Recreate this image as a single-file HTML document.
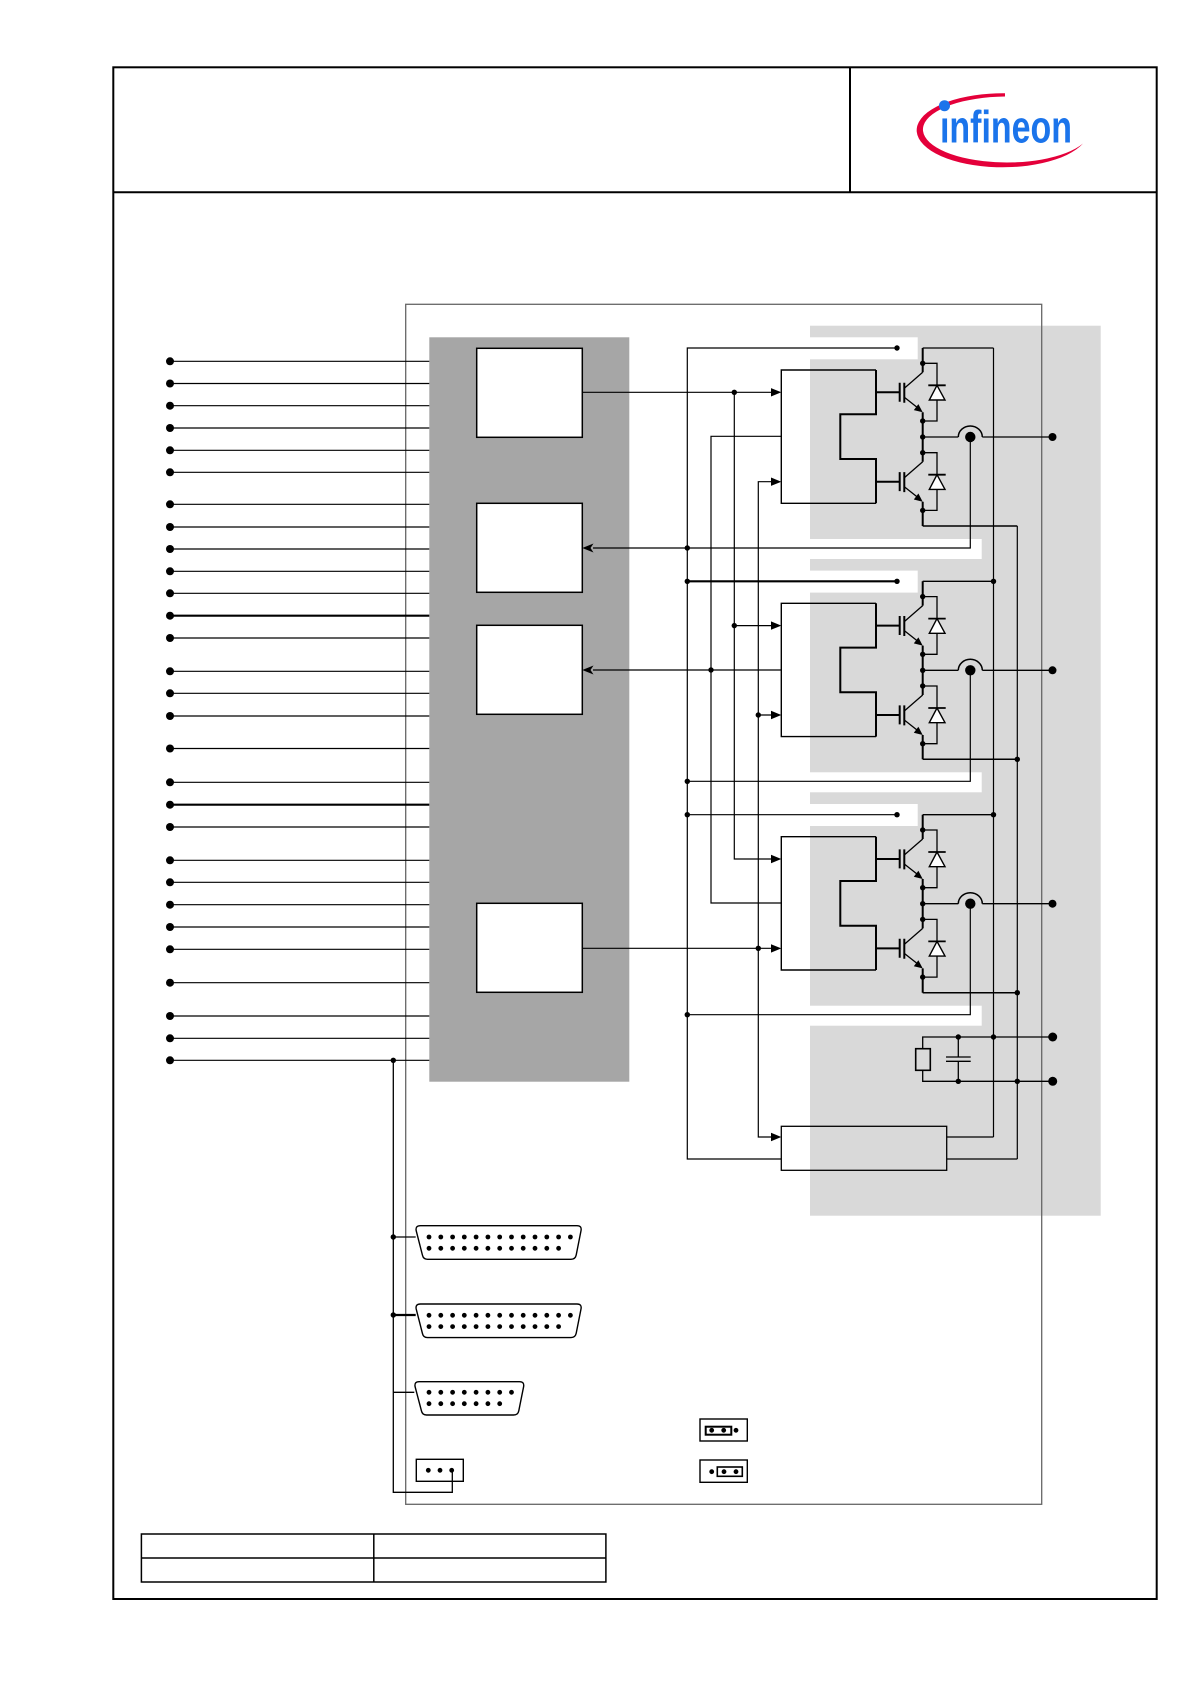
<!DOCTYPE html>
<html>
<head>
<meta charset="utf-8">
<style>
  html,body{margin:0;padding:0;background:#fff;}
  svg{display:block;}
</style>
</head>
<body>
<svg xmlns="http://www.w3.org/2000/svg" xmlns:xlink="http://www.w3.org/1999/xlink" width="1191" height="1684" viewBox="0 0 1191 1684">
  <defs>
    <!-- IGBT + diode at local gate y = 0 -->
    <g id="igbt">
      <path d="M876,0 H899.7" stroke="#000" stroke-width="2" fill="none"/>
      <path d="M899.7,-9.6 V9.4 M904.3,-9.6 V10.4" stroke="#000" stroke-width="2" fill="none"/>
      <path d="M904.3,-4 L922.7,-20 M904.3,5 L917,15" stroke="#000" stroke-width="1.3" fill="none"/>
      <polygon points="922.7,20 913.8,17.8 918.4,11.8" fill="#000"/>
      <path d="M922.7,-29 H937 V28.7 H922.7" stroke="#000" stroke-width="1.3" fill="none"/>
      <path d="M928.3,-7 H945.7" stroke="#000" stroke-width="1.8" fill="none"/>
      <path d="M937,-7 L929.3,7.7 L945,7.7 Z" stroke="#000" stroke-width="1.4" fill="#fff"/>
      <circle cx="922.7" cy="-29" r="2.7" fill="#000"/>
      <circle cx="922.7" cy="28.7" r="2.7" fill="#000"/>
    </g>
    <!-- one phase (phase 1 coordinates) -->
    <g id="ph">
      <!-- driver box -->
      <path d="M876,370 H781.3 V503.3 H876" stroke="#000" stroke-width="1.4" fill="none"/>
      <path d="M876,370 V414.3 H840.3 V459 H876 V503.3" stroke="#000" stroke-width="2" fill="none"/>
      <!-- arrows into driver -->
      <polygon points="771,388.1 781.3,392.3 771,396.5" fill="#000"/>
      <polygon points="771,477.5 781.3,481.7 771,485.9" fill="#000"/>
      <!-- top dot (left of notch) -->
      <circle cx="897" cy="348" r="2.7" fill="#000"/>
      <!-- transistors -->
      <use xlink:href="#igbt" href="#igbt" transform="translate(0,392.3)"/>
      <use xlink:href="#igbt" href="#igbt" transform="translate(0,481.7)"/>
      <!-- spine -->
      <path d="M922.7,348 V372.3 M922.7,412.3 V461.7 M922.7,501.7 V526" stroke="#000" stroke-width="2" fill="none"/>
      <!-- top/bottom rails -->
      <path d="M922.7,348 H993.5" stroke="#000" stroke-width="1.3" fill="none"/>
      <path d="M922.7,526 H1017.3" stroke="#000" stroke-width="1.5" fill="none"/>
      <!-- output & current sensor -->
      <circle cx="922.7" cy="437" r="2.7" fill="#000"/>
      <path d="M922.7,437 H958.3 M982.3,437 H1052.5" stroke="#000" stroke-width="1.3" fill="none"/>
      <path d="M958.3,437 A12,11 0 0,1 982.3,437" stroke="#000" stroke-width="1.5" fill="none"/>
      <circle cx="970.3" cy="437" r="5.2" fill="#000"/>
      <circle cx="1052.5" cy="437" r="4" fill="#000"/>
    </g>
  </defs>

  <!-- page frame -->
  <rect x="113.3" y="67.3" width="1043.4" height="1531.7" fill="none" stroke="#000" stroke-width="2"/>
  <path d="M113.3,192.3 H1156.7 M850,67.3 V192.3" stroke="#000" stroke-width="2" fill="none"/>

  <!-- logo -->
  <path d="M1005,93.3 A86,37 0 1,0 1083,143.5 A84,33 0 1,1 1005,96.5 Z" fill="#E4003A"/>
  <text x="940" y="142.7" font-family="Liberation Sans, sans-serif" font-weight="bold" font-size="45" fill="#1B74EB" textLength="132" lengthAdjust="spacingAndGlyphs">ınfineon</text>
  <circle cx="944.5" cy="105.7" r="5.5" fill="#1B74EB"/>

  <!-- shaded regions -->
  <rect x="429.3" y="337.3" width="200" height="744.4" fill="#A6A6A6"/>
  <rect x="810" y="325.7" width="290.7" height="890" fill="#D9D9D9"/>
  <g fill="#fff">
    <rect x="810" y="337.3" width="107.7" height="22"/>
    <rect x="810" y="570.6" width="107.7" height="22"/>
    <rect x="810" y="804" width="107.7" height="22"/>
    <rect x="810" y="539" width="171.7" height="20"/>
    <rect x="810" y="772.3" width="171.7" height="20"/>
    <rect x="810" y="1005.7" width="171.7" height="20"/>
  </g>

  <!-- outer thin box -->
  <rect x="405.7" y="304.3" width="636" height="1200" fill="none" stroke="#666" stroke-width="1.3"/>

  <!-- input lines -->
  <path d="M170,361.3 H429.3 M170,383.5 H429.3 M170,405.7 H429.3 M170,428 H429.3 M170,450.3 H429.3 M170,472.3 H429.3
           M170,504.3 H429.3 M170,527 H429.3 M170,549 H429.3 M170,571.3 H429.3 M170,593.3 H429.3 M170,638 H429.3
           M170,671.3 H429.3 M170,693.3 H429.3 M170,716 H429.3 M170,748.5 H429.3 M170,782.3 H429.3 M170,827 H429.3
           M170,860.3 H429.3 M170,882.3 H429.3 M170,904.7 H429.3 M170,927 H429.3 M170,949.3 H429.3 M170,982.7 H429.3
           M170,1016 H429.3 M170,1038.3 H429.3 M170,1060.3 H429.3" stroke="#000" stroke-width="1.2" fill="none"/>
  <path d="M170,615.7 H429.3 M170,804.7 H429.3" stroke="#000" stroke-width="2.2" fill="none"/>
  <g fill="#000">
    <circle cx="170" cy="361.3" r="4"/><circle cx="170" cy="383.5" r="4"/><circle cx="170" cy="405.7" r="4"/>
    <circle cx="170" cy="428" r="4"/><circle cx="170" cy="450.3" r="4"/><circle cx="170" cy="472.3" r="4"/>
    <circle cx="170" cy="504.3" r="4"/><circle cx="170" cy="527" r="4"/><circle cx="170" cy="549" r="4"/>
    <circle cx="170" cy="571.3" r="4"/><circle cx="170" cy="593.3" r="4"/><circle cx="170" cy="615.7" r="4"/>
    <circle cx="170" cy="638" r="4"/><circle cx="170" cy="671.3" r="4"/><circle cx="170" cy="693.3" r="4"/>
    <circle cx="170" cy="716" r="4"/><circle cx="170" cy="748.5" r="4"/><circle cx="170" cy="782.3" r="4"/>
    <circle cx="170" cy="804.7" r="4"/><circle cx="170" cy="827" r="4"/><circle cx="170" cy="860.3" r="4"/>
    <circle cx="170" cy="882.3" r="4"/><circle cx="170" cy="904.7" r="4"/><circle cx="170" cy="927" r="4"/>
    <circle cx="170" cy="949.3" r="4"/><circle cx="170" cy="982.7" r="4"/><circle cx="170" cy="1016" r="4"/>
    <circle cx="170" cy="1038.3" r="4"/><circle cx="170" cy="1060.3" r="4"/>
  </g>

  <!-- white function boxes -->
  <g fill="#fff" stroke="#000" stroke-width="1.5">
    <rect x="476.7" y="348.3" width="105.6" height="89"/>
    <rect x="476.7" y="503.3" width="105.6" height="89"/>
    <rect x="476.7" y="625.3" width="105.6" height="89"/>
    <rect x="476.7" y="903.3" width="105.6" height="89"/>
  </g>

  <!-- phases -->
  <use xlink:href="#ph" href="#ph"/>
  <use xlink:href="#ph" href="#ph" transform="translate(0,233.3)"/>
  <use xlink:href="#ph" href="#ph" transform="translate(0,466.7)"/>

  <!-- signal wiring -->
  <g stroke="#000" stroke-width="1.2" fill="none">
    <path d="M582.3,392.3 H771"/>
    <path d="M593,548 H970.3 V437"/>
    <path d="M593,670 H781.3"/>
    <path d="M582.3,948.3 H771"/>
    <path d="M897,348 H687.3 V1159 H781.3"/>
    <path d="M687.3,814.7 H897"/>
    <path d="M687.3,781.3 H970.3 V670.3"/>
    <path d="M687.3,1014.7 H970.3 V903.7"/>
    <path d="M781.3,436.3 H711 V903 H781.3"/>
    <path d="M734.3,392.3 V859 H771 M734.3,625.6 H771"/>
    <path d="M771,481.7 H758.3 V1137 H771 M758.3,715 H771"/>
    <path d="M946.7,1137 H993.5 M946.7,1159 H1017.3"/>
    <path d="M993.5,348 V1137"/>
    <path d="M1017.3,526 V1159"/>
  </g>
  <path d="M687.3,581.3 H897" stroke="#000" stroke-width="2.2" fill="none"/>
  <polygon points="582.3,548 593.5,543.5 590.5,548 593.5,552.5" fill="#000"/>
  <polygon points="582.3,670 593.5,665.5 590.5,670 593.5,674.5" fill="#000"/>
  <polygon points="771,1132.8 781.3,1137 771,1141.2" fill="#000"/>

  <!-- bottom box -->
  <rect x="781.3" y="1126.3" width="165.4" height="44" fill="none" stroke="#000" stroke-width="1.3"/>

  <!-- RC section -->
  <g stroke="#000" stroke-width="1.3" fill="none">
    <path d="M1052.7,1037 H922.7 V1048.7 M922.7,1070.3 V1081.3 H1052.7"/>
    <rect x="915.7" y="1048.7" width="14.6" height="21.6" stroke-width="1.6"/>
    <path d="M958.3,1037 V1057 M958.3,1061.3 V1081.3"/>
    <path d="M946,1057 H970.7 M946,1061.3 H970.7"/>
  </g>

  <!-- junction dots -->
  <g fill="#000">
    <circle cx="734.3" cy="392.3" r="2.7"/>
    <circle cx="687.3" cy="548" r="2.7"/>
    <circle cx="687.3" cy="581.3" r="2.7"/>
    <circle cx="734.3" cy="625.6" r="2.7"/>
    <circle cx="711" cy="670" r="2.7"/>
    <circle cx="758.3" cy="715" r="2.7"/>
    <circle cx="687.3" cy="781.3" r="2.7"/>
    <circle cx="687.3" cy="814.7" r="2.7"/>
    <circle cx="758.3" cy="948.3" r="2.7"/>
    <circle cx="687.3" cy="1014.7" r="2.7"/>
    <circle cx="993.5" cy="581.3" r="2.7"/>
    <circle cx="993.5" cy="814.7" r="2.7"/>
    <circle cx="1017.3" cy="759.3" r="2.7"/>
    <circle cx="1017.3" cy="992.7" r="2.7"/>
    <circle cx="993.5" cy="1037" r="2.7"/>
    <circle cx="1017.3" cy="1081.3" r="2.7"/>
    <circle cx="958.3" cy="1037" r="2.7"/>
    <circle cx="958.3" cy="1081.3" r="2.7"/>
    <circle cx="1052.7" cy="1037" r="4.5"/>
    <circle cx="1052.7" cy="1081.3" r="4.5"/>
    <circle cx="393.3" cy="1060.3" r="2.7"/>
    <circle cx="393.3" cy="1237" r="2.7"/>
    <circle cx="393.3" cy="1315" r="2.7"/>
  </g>

  <!-- connector bus -->
  <path d="M393.3,1060.3 V1492.3 H452.3 V1470.3" stroke="#000" stroke-width="1.3" fill="none"/>
  <path d="M393.3,1237 H415.7 M393.3,1392.3 H414.3" stroke="#000" stroke-width="1.3" fill="none"/>
  <path d="M393.3,1315 H415.7" stroke="#000" stroke-width="2.2" fill="none"/>

  <!-- DB25 #1 -->
  <path d="M420.5,1225.7 H577 Q582,1225.7 581,1230.7 L576.2,1255 Q575.3,1259.3 571,1259.3 H427.5 Q423.3,1259.3 422.4,1255 L416.2,1230.7 Q415.2,1225.7 420.5,1225.7 Z" fill="#fff" stroke="#000" stroke-width="1.4"/>
  <g fill="#000">
    <circle cx="429" cy="1237" r="2.4"/><circle cx="440.8" cy="1237" r="2.4"/><circle cx="452.6" cy="1237" r="2.4"/>
    <circle cx="464.3" cy="1237" r="2.4"/><circle cx="476.1" cy="1237" r="2.4"/><circle cx="487.9" cy="1237" r="2.4"/>
    <circle cx="499.7" cy="1237" r="2.4"/><circle cx="511.5" cy="1237" r="2.4"/><circle cx="523.2" cy="1237" r="2.4"/>
    <circle cx="535" cy="1237" r="2.4"/><circle cx="546.8" cy="1237" r="2.4"/><circle cx="558.6" cy="1237" r="2.4"/>
    <circle cx="570.4" cy="1237" r="2.4"/>
    <circle cx="429" cy="1248.3" r="2.4"/><circle cx="440.8" cy="1248.3" r="2.4"/><circle cx="452.6" cy="1248.3" r="2.4"/>
    <circle cx="464.3" cy="1248.3" r="2.4"/><circle cx="476.1" cy="1248.3" r="2.4"/><circle cx="487.9" cy="1248.3" r="2.4"/>
    <circle cx="499.7" cy="1248.3" r="2.4"/><circle cx="511.5" cy="1248.3" r="2.4"/><circle cx="523.2" cy="1248.3" r="2.4"/>
    <circle cx="535" cy="1248.3" r="2.4"/><circle cx="546.8" cy="1248.3" r="2.4"/><circle cx="558.6" cy="1248.3" r="2.4"/>
  </g>

  <!-- DB25 #2 -->
  <g transform="translate(0,78.3)">
    <path d="M420.5,1225.7 H577 Q582,1225.7 581,1230.7 L576.2,1255 Q575.3,1259.3 571,1259.3 H427.5 Q423.3,1259.3 422.4,1255 L416.2,1230.7 Q415.2,1225.7 420.5,1225.7 Z" fill="#fff" stroke="#000" stroke-width="1.4"/>
    <g fill="#000">
      <circle cx="429" cy="1237" r="2.4"/><circle cx="440.8" cy="1237" r="2.4"/><circle cx="452.6" cy="1237" r="2.4"/>
      <circle cx="464.3" cy="1237" r="2.4"/><circle cx="476.1" cy="1237" r="2.4"/><circle cx="487.9" cy="1237" r="2.4"/>
      <circle cx="499.7" cy="1237" r="2.4"/><circle cx="511.5" cy="1237" r="2.4"/><circle cx="523.2" cy="1237" r="2.4"/>
      <circle cx="535" cy="1237" r="2.4"/><circle cx="546.8" cy="1237" r="2.4"/><circle cx="558.6" cy="1237" r="2.4"/>
      <circle cx="570.4" cy="1237" r="2.4"/>
      <circle cx="429" cy="1248.3" r="2.4"/><circle cx="440.8" cy="1248.3" r="2.4"/><circle cx="452.6" cy="1248.3" r="2.4"/>
      <circle cx="464.3" cy="1248.3" r="2.4"/><circle cx="476.1" cy="1248.3" r="2.4"/><circle cx="487.9" cy="1248.3" r="2.4"/>
      <circle cx="499.7" cy="1248.3" r="2.4"/><circle cx="511.5" cy="1248.3" r="2.4"/><circle cx="523.2" cy="1248.3" r="2.4"/>
      <circle cx="535" cy="1248.3" r="2.4"/><circle cx="546.8" cy="1248.3" r="2.4"/><circle cx="558.6" cy="1248.3" r="2.4"/>
    </g>
  </g>

  <!-- DB15 -->
  <path d="M419,1381.7 H519.5 Q524.5,1381.7 523.6,1386.7 L518.8,1410.7 Q518,1415 513.5,1415 H426.5 Q422.3,1415 421.4,1410.7 L415.1,1386.7 Q414.2,1381.7 419,1381.7 Z" fill="#fff" stroke="#000" stroke-width="1.4"/>
  <g fill="#000">
    <circle cx="429" cy="1392.3" r="2.4"/><circle cx="440.8" cy="1392.3" r="2.4"/><circle cx="452.6" cy="1392.3" r="2.4"/>
    <circle cx="464.3" cy="1392.3" r="2.4"/><circle cx="476.1" cy="1392.3" r="2.4"/><circle cx="487.9" cy="1392.3" r="2.4"/>
    <circle cx="499.7" cy="1392.3" r="2.4"/><circle cx="511.5" cy="1392.3" r="2.4"/>
    <circle cx="429" cy="1403.7" r="2.4"/><circle cx="440.8" cy="1403.7" r="2.4"/><circle cx="452.6" cy="1403.7" r="2.4"/>
    <circle cx="464.3" cy="1403.7" r="2.4"/><circle cx="476.1" cy="1403.7" r="2.4"/><circle cx="487.9" cy="1403.7" r="2.4"/>
    <circle cx="499.7" cy="1403.7" r="2.4"/>
  </g>

  <!-- 3-pin header -->
  <rect x="416.3" y="1459.3" width="47" height="22" fill="none" stroke="#000" stroke-width="1.4"/>
  <g fill="#000">
    <circle cx="428.3" cy="1470.3" r="2.4"/><circle cx="440" cy="1470.3" r="2.4"/><circle cx="451.7" cy="1470.3" r="2.4"/>
  </g>

  <!-- jumpers -->
  <rect x="700" y="1419" width="47.3" height="22" fill="none" stroke="#000" stroke-width="1.4"/>
  <rect x="705.7" y="1426.7" width="25.6" height="8" fill="none" stroke="#000" stroke-width="2"/>
  <g fill="#000">
    <circle cx="711.7" cy="1430.3" r="2.4"/><circle cx="723.7" cy="1430.3" r="2.4"/><circle cx="736" cy="1430.3" r="2.4"/>
  </g>
  <rect x="700" y="1460" width="47.3" height="22.3" fill="none" stroke="#000" stroke-width="1.4"/>
  <rect x="717.3" y="1467" width="25" height="9.3" fill="none" stroke="#000" stroke-width="1.6"/>
  <g fill="#000">
    <circle cx="711.7" cy="1471.7" r="2.4"/><circle cx="724" cy="1471.7" r="2.4"/><circle cx="736" cy="1471.7" r="2.4"/>
  </g>

  <!-- bottom table -->
  <rect x="141.4" y="1534" width="464.5" height="48" fill="none" stroke="#000" stroke-width="1.5"/>
  <path d="M141.4,1558 H605.9 M373.8,1534 V1582" stroke="#000" stroke-width="1.5" fill="none"/>
</svg>
</body>
</html>
